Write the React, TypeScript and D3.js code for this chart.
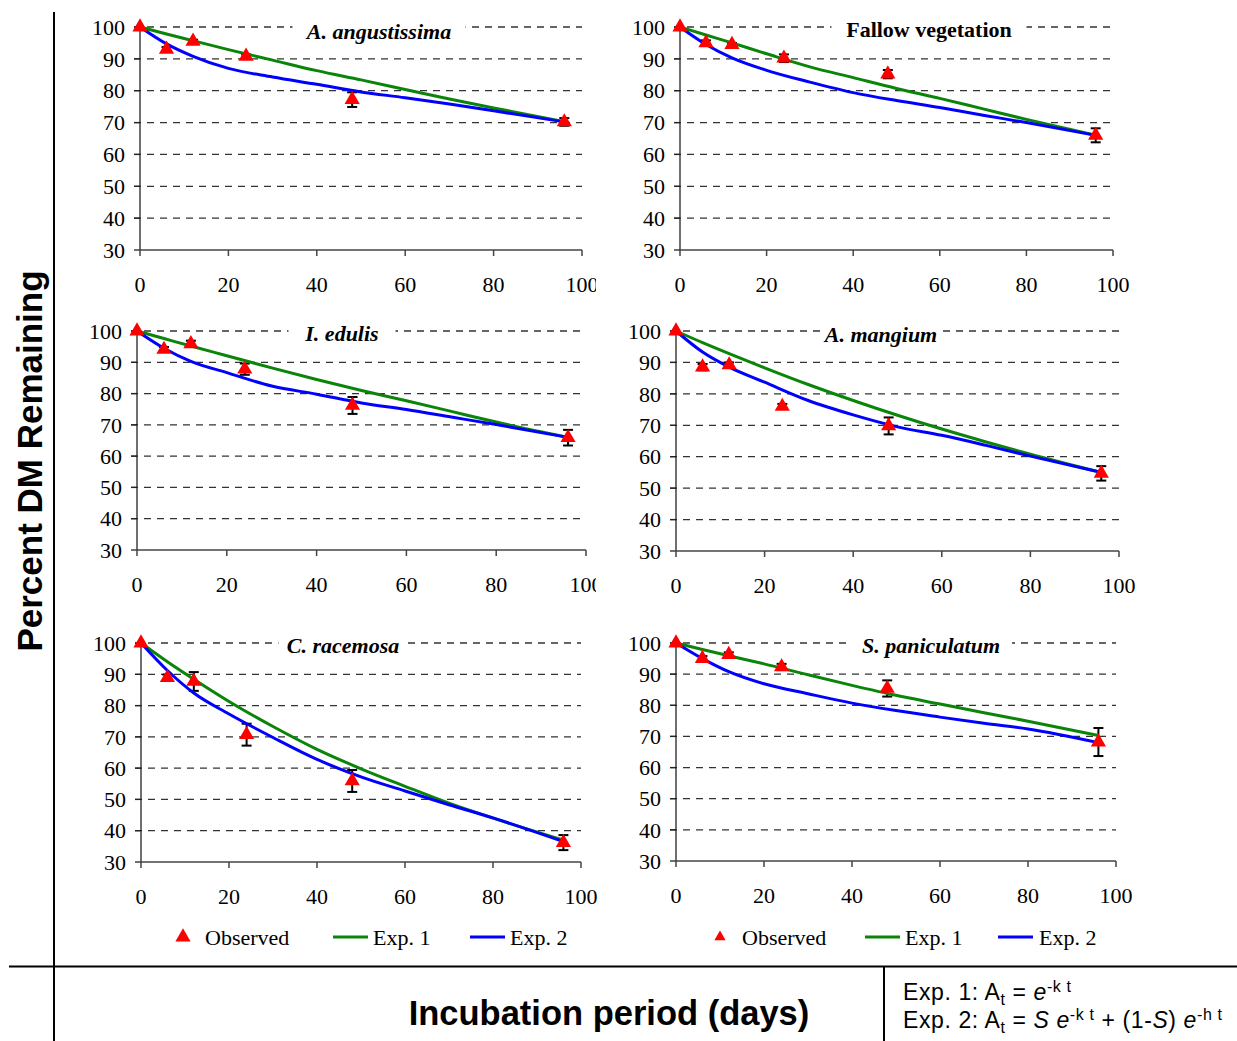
import React from "react";
import * as d3 from "d3";

// ---------- data ----------
const obsDays = [0, 6, 12, 24, 48, 96];
const curveDays = [0, 6, 12, 20, 30, 40, 50, 60, 70, 80, 96];
const yTicks = [30, 40, 50, 60, 70, 80, 90, 100];
const xTicks = [0, 20, 40, 60, 80, 100];

const titles = ["A. angustissima", "Fallow vegetation", "I. edulis", "A. mangium", "C. racemosa", "S. paniculatum"];
const titleItalic = [true, false, true, true, true, true];

const obsAng = [100, 93, 95.5, 90.8, 77.2, 70.2];
const errAng = [0, 0.7, 0.5, 0.6, 2.3, 1.2];
const exp1Ang = [100, 97.8, 95.7, 92.9, 89.6, 86.3, 83.4, 80.4, 77.4, 74.6, 70.3];
const exp2Ang = [100, 94.7, 90.8, 87, 84.3, 82, 79.6, 77.8, 75.8, 73.7, 70.2];

const obsFal = [100, 95, 94.5, 90.2, 85.2, 66];
const errFal = [0, 0.8, 0.5, 1.2, 1.3, 2.2];
const exp1Fal = [100, 97.5, 95, 91.6, 87.5, 84.1, 80.7, 77.6, 74.3, 71, 66];
const exp2Fal = [100, 94.5, 90.3, 86.4, 82.7, 79.4, 76.9, 74.7, 72.3, 70, 66];

const obsEdu = [100, 94.1, 95.9, 87.8, 76.2, 65.9];
const errEdu = [0, 0.8, 1, 1.8, 2.7, 2.5];
const exp1Edu = [100, 97.6, 95.2, 92.1, 88.2, 84.5, 81, 77.7, 74.3, 70.9, 66];
const exp2Edu = [100, 94.5, 90.3, 86.7, 82.4, 79.8, 77, 74.9, 72.5, 70.1, 66];

const obsMan = [100, 88.5, 89.2, 76, 69.8, 54.7];
const errMan = [0, 1, 0.8, 0.8, 2.7, 2.3];
const exp1Man = [100, 96.3, 92.8, 88.3, 82.9, 77.9, 73.2, 68.8, 64.7, 60.8, 55];
const exp2Man = [100, 93.3, 88.5, 83.7, 77.8, 73.3, 69.5, 66.8, 63.6, 60.2, 55];

const obsRac = [100, 88.9, 87.7, 70.7, 55.9, 36.2];
const errRac = [0, 1, 3, 3.5, 3.5, 2.4];
const exp1Rac = [100, 94, 88.4, 81.3, 73.3, 66, 59.8, 54.2, 48.8, 44, 37];
const exp2Rac = [100, 91.2, 84, 77.3, 69.8, 62.8, 57.2, 52.7, 48.3, 44.1, 36.5];

const obsPan = [100, 95, 96.3, 92.3, 85.4, 68.2];
const errPan = [0, 0.8, 0.7, 1, 2.6, 4.5];
const exp1Pan = [100, 97.9, 95.9, 93.3, 89.8, 86.4, 83.2, 80.4, 77.6, 74.9, 70.3];
const exp2Pan = [100, 95, 90.8, 86.9, 83.7, 80.7, 78.3, 76.2, 74.2, 72.4, 68];

const legendLabels = ["Observed", "Exp. 1", "Exp. 2"];

// ---------- layout ----------
const layouts = [
  { x0: 140, x1: 582, y0: 250, y1: 27, titleX: 379, titleY: 31, clip: 596 },
  { x0: 680, x1: 1113, y0: 250, y1: 27, titleX: 929, titleY: 29, clip: 0 },
  { x0: 137, x1: 586, y0: 550, y1: 331, titleX: 342, titleY: 333, clip: 596 },
  { x0: 676, x1: 1119, y0: 551, y1: 331, titleX: 881, titleY: 334, clip: 0 },
  { x0: 141, x1: 581, y0: 862, y1: 643, titleX: 343, titleY: 645, clip: 0 },
  { x0: 676, x1: 1116, y0: 861, y1: 643, titleX: 931, titleY: 645, clip: 0 },
];

const obsAll = [obsAng, obsFal, obsEdu, obsMan, obsRac, obsPan];
const errAll = [errAng, errFal, errEdu, errMan, errRac, errPan];
const exp1All = [exp1Ang, exp1Fal, exp1Edu, exp1Man, exp1Rac, exp1Pan];
const exp2All = [exp2Ang, exp2Fal, exp2Edu, exp2Man, exp2Rac, exp2Pan];

const GREEN = "#0a850a";
const BLUE = "#0000ff";
const RED = "#ff0000";
const SERIF = "'Liberation Serif', 'Times New Roman', Times, serif";
const SANS = "'Liberation Sans', Arial, Helvetica, sans-serif";

function textWidthEstimate(s: string) {
  return s.length * 11;
}

function Panel({ i }: { i: number }) {
  const L = layouts[i];
  const x = d3.scaleLinear().domain([0, 100]).range([L.x0, L.x1]);
  const y = d3.scaleLinear().domain([30, 100]).range([L.y0, L.y1]);
  const line = d3
    .line<number>()
    .x((_, k) => x(curveDays[k]))
    .y((d) => y(d))
    .curve(d3.curveMonotoneX);
  const tri = d3.symbol().type(d3.symbolTriangle).size(100)();
  const title = titles[i];
  const tw = textWidthEstimate(title);
  const clipId = `clip${i}`;
  return (
    <g>
      {L.clip > 0 && (
        <clipPath id={clipId}>
          <rect x={0} y={0} width={L.clip} height={1041} />
        </clipPath>
      )}
      <g clipPath={L.clip > 0 ? `url(#${clipId})` : undefined}>
        {yTicks.filter((t) => t > 30).map((t) => (
          <line key={t} x1={x(0) - 6} x2={x(100)} y1={y(t)} y2={y(t)} stroke="#333" strokeWidth={1.3} strokeDasharray="7,6" />
        ))}
        <line x1={x(0)} x2={x(0)} y1={y(30)} y2={y(100)} stroke="#222" strokeWidth={1.3} />
        {yTicks.map((t) => (
          <g key={t}>
            <line x1={x(0) - 6} x2={x(0)} y1={y(t)} y2={y(t)} stroke="#222" strokeWidth={1.3} />
            <text x={x(0) - 15} y={y(t)} dy="0.35em" textAnchor="end" fontFamily={SERIF} fontSize={22} fill="#000">
              {t}
            </text>
          </g>
        ))}
        <line x1={x(0)} x2={x(100)} y1={y(30)} y2={y(30)} stroke="#444" strokeWidth={1.5} />
        {xTicks.map((t) => (
          <g key={t}>
            <line x1={x(t)} x2={x(t)} y1={y(30)} y2={y(30) + 6} stroke="#444" strokeWidth={1.5} />
            <text x={x(t)} y={y(30) + 34} dy="0.35em" textAnchor="middle" fontFamily={SERIF} fontSize={22} fill="#000">
              {t}
            </text>
          </g>
        ))}
        <rect x={L.titleX - tw / 2 - 4} y={L.titleY - 12} width={tw + 8} height={24} fill="#fff" />
        <text
          x={L.titleX}
          y={L.titleY}
          dy="0.35em"
          textAnchor="middle"
          fontFamily={SERIF}
          fontSize={22}
          fontWeight="bold"
          fontStyle={titleItalic[i] ? "italic" : "normal"}
          fill="#000"
        >
          {title}
        </text>
        {obsAll[i].map((v, k) =>
          errAll[i][k] > 0 ? (
            <g key={k} stroke="#000" strokeWidth={2}>
              <line x1={x(obsDays[k])} x2={x(obsDays[k])} y1={y(v - errAll[i][k])} y2={y(v + errAll[i][k])} />
              <line x1={x(obsDays[k]) - 5} x2={x(obsDays[k]) + 5} y1={y(v - errAll[i][k])} y2={y(v - errAll[i][k])} />
              <line x1={x(obsDays[k]) - 5} x2={x(obsDays[k]) + 5} y1={y(v + errAll[i][k])} y2={y(v + errAll[i][k])} />
            </g>
          ) : null
        )}
        <path d={line(exp1All[i]) || ""} fill="none" stroke={GREEN} strokeWidth={3} />
        <path d={line(exp2All[i]) || ""} fill="none" stroke={BLUE} strokeWidth={3} />
        {obsAll[i].map((v, k) => (
          <path key={k} d={tri || ""} transform={`translate(${x(obsDays[k])},${y(v)})`} fill={RED} />
        ))}
      </g>
    </g>
  );
}

function Legend({ tx, ox, g1, t1, b1, t2, triSize }: { tx: number; ox: number; g1: number; t1: number; b1: number; t2: number; triSize: number }) {
  const yy = 937;
  const tri = d3.symbol().type(d3.symbolTriangle).size(triSize)();
  return (
    <g fontFamily={SERIF} fontSize={22} fill="#000">
      <path d={tri || ""} transform={`translate(${tx},${yy})`} fill={RED} />
      <text x={ox} y={yy} dy="0.35em">{legendLabels[0]}</text>
      <line x1={g1} x2={g1 + 35} y1={yy} y2={yy} stroke={GREEN} strokeWidth={3} />
      <text x={t1} y={yy} dy="0.35em">{legendLabels[1]}</text>
      <line x1={b1} x2={b1 + 35} y1={yy} y2={yy} stroke={BLUE} strokeWidth={3} />
      <text x={t2} y={yy} dy="0.35em">{legendLabels[2]}</text>
    </g>
  );
}

export default function App() {
  return (
    <div style={{ position: "absolute", left: 0, top: 0 }}>
      <svg width={1237} height={1041} style={{ display: "block", background: "#fff" }}>
        <rect x={0} y={0} width={1237} height={1041} fill="#fff" />
        {layouts.map((_, i) => (
          <Panel key={i} i={i} />
        ))}
        <Legend tx={183} ox={205} g1={333} t1={373} b1={470} t2={510} triSize={100} />
        <Legend tx={720} ox={742} g1={865} t1={905} b1={998} t2={1039} triSize={55} />

        <line x1={54} x2={54} y1={12} y2={1041} stroke="#000" strokeWidth={2} />
        <line x1={9} x2={1237} y1={966.5} y2={966.5} stroke="#000" strokeWidth={2.2} />
        <line x1={884} x2={884} y1={966} y2={1041} stroke="#000" strokeWidth={2} />

        <text
          transform="translate(30,461) rotate(-90)"
          textAnchor="middle"
          dy="0.35em"
          fontFamily={SANS}
          fontWeight="bold"
          fontSize={35}
          fill="#000"
        >
          Percent DM Remaining
        </text>
        <text x={609} y={1013} dy="0.35em" textAnchor="middle" fontFamily={SANS} fontWeight="bold" fontSize={34.5} fill="#000">
          Incubation period (days)
        </text>

        <text x={903} y={1000} fontFamily={SANS} fontSize={23} letterSpacing={0.6} fill="#000">
          Exp. 1: A
          <tspan dy={5} fontSize={16}>t</tspan>
          <tspan dy={-5}>{" = "}</tspan>
          <tspan fontStyle="italic">e</tspan>
          <tspan dy={-8} fontSize={16}>-k t</tspan>
        </text>
        <text x={903} y={1028} fontFamily={SANS} fontSize={23} letterSpacing={0.6} fill="#000">
          Exp. 2: A
          <tspan dy={5} fontSize={16}>t</tspan>
          <tspan dy={-5}>{" = "}</tspan>
          <tspan fontStyle="italic">S e</tspan>
          <tspan dy={-8} fontSize={16}>-k t</tspan>
          <tspan dy={8}>{" + (1-"}</tspan>
          <tspan fontStyle="italic">S</tspan>
          <tspan>{") "}</tspan>
          <tspan fontStyle="italic">e</tspan>
          <tspan dy={-8} fontSize={16}>-h t</tspan>
        </text>
      </svg>
    </div>
  );
}
